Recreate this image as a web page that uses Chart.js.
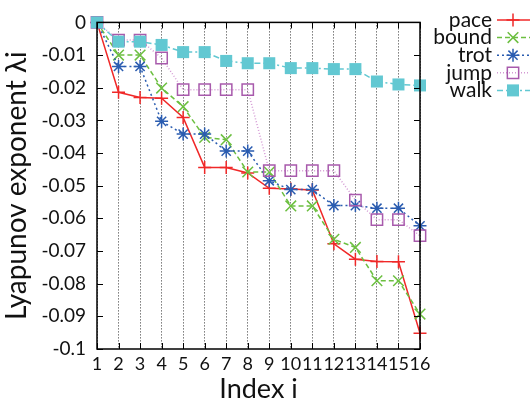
<!DOCTYPE html>
<html>
<head>
<meta charset="utf-8">
<script src="https://cdn.jsdelivr.net/npm/chart.js@4/dist/chart.umd.min.js"></script>
<style>
  html, body { margin: 0; padding: 0; background: #fff; }
  #wrap { width: 530px; height: 406px; }
</style>
</head>
<body>
<div id="wrap"><canvas id="c" width="530" height="406"></canvas></div>
<script>
// Lyapunov spectrum per gait: exponent value for each index i
const indices = [1, 2, 3, 4, 5, 6, 7, 8, 9, 10, 11, 12, 13, 14, 15, 16];
const pace  = [0, -0.0214, -0.0230, -0.0232, -0.0291, -0.0444, -0.0444, -0.0461, -0.0508, -0.0510, -0.0513, -0.0678, -0.0725, -0.0732, -0.0733, -0.0952];
const bound = [0, -0.0100, -0.0100, -0.0201, -0.0258, -0.0352, -0.0359, -0.0458, -0.0458, -0.0562, -0.0562, -0.0664, -0.0689, -0.0791, -0.0791, -0.0893];
const trot  = [0, -0.0135, -0.0135, -0.0303, -0.0342, -0.0342, -0.0394, -0.0394, -0.0485, -0.0512, -0.0512, -0.0561, -0.0561, -0.0569, -0.0569, -0.0623];
const jump  = [0, -0.0054, -0.0054, -0.0109, -0.0206, -0.0206, -0.0206, -0.0206, -0.0454, -0.0454, -0.0454, -0.0454, -0.0544, -0.0604, -0.0604, -0.0653];
const walk  = [0, -0.0059, -0.0059, -0.0069, -0.0091, -0.0091, -0.0118, -0.0125, -0.0125, -0.0140, -0.0140, -0.0143, -0.0143, -0.0181, -0.0190, -0.0193];

const seriesNames = ['pace', 'bound', 'trot', 'jump', 'walk'];
const xTitle = 'Index i';
const yTitle = 'Lyapunov exponent \u03BBi';
const FONT = 'Lato, "Liberation Sans", sans-serif';

function pts(vals) { return vals.map((v, k) => ({ x: indices[k], y: v })); }

const datasets = [
  { label: 'pace',  data: pts(pace),  borderColor: '#f02828', pointBorderColor: '#f02828', backgroundColor: 'transparent',
    borderWidth: 1.5, borderDash: [], pointStyle: 'cross', pointRadius: 6.5, pointBorderWidth: 1.5, order: 5 },
  { label: 'bound', data: pts(bound), borderColor: '#6cbf40', pointBorderColor: '#6cbf40', backgroundColor: 'transparent',
    borderWidth: 1.5, borderDash: [5, 3], pointStyle: 'crossRot', pointRadius: 7.5, pointBorderWidth: 1.5, order: 4 },
  { label: 'trot',  data: pts(trot),  borderColor: '#2a5cb0', pointBorderColor: '#2a5cb0', backgroundColor: 'transparent',
    borderWidth: 1.5, borderDash: [2, 3], pointStyle: 'star', pointRadius: 6.5, pointBorderWidth: 1.5, order: 3 },
  { label: 'jump',  data: pts(jump),  borderColor: '#d49ad4', pointBorderColor: '#a85aac', backgroundColor: 'transparent',
    borderWidth: 1.5, borderDash: [1, 2], pointStyle: 'rect', pointRadius: 8, pointBorderWidth: 1.5, pointBackgroundColor: 'transparent', order: 2 },
  { label: 'walk',  data: pts(walk),  borderColor: '#62c8d2', pointBorderColor: '#62c8d2', backgroundColor: '#62c8d2',
    borderWidth: 1.5, borderDash: [6, 3, 2, 3], pointStyle: 'rect', pointRadius: 8.5, pointBorderWidth: 0, pointBackgroundColor: '#62c8d2', order: 1 }
];

// Frame with inward ticks on all four sides
const framePlugin = {
  id: 'frame',
  afterDatasetsDraw(chart) {
    const { ctx, chartArea: a, scales } = chart;
    ctx.save();
    ctx.strokeStyle = '#000';
    ctx.lineWidth = 1.5;
    ctx.setLineDash([]);
    ctx.strokeRect(a.left, a.top, a.right - a.left, a.bottom - a.top);
    ctx.lineWidth = 1;
    const tl = 6;
    ctx.beginPath();
    scales.x.ticks.forEach(t => {
      const x = Math.round(scales.x.getPixelForValue(t.value)) + 0.5;
      ctx.moveTo(x, a.bottom); ctx.lineTo(x, a.bottom - tl);
      ctx.moveTo(x, a.top); ctx.lineTo(x, a.top + tl);
    });
    scales.y.ticks.forEach(t => {
      const y = Math.round(scales.y.getPixelForValue(t.value)) + 0.5;
      ctx.moveTo(a.left, y); ctx.lineTo(a.left + tl, y);
      ctx.moveTo(a.right, y); ctx.lineTo(a.right - tl, y);
    });
    ctx.stroke();
    ctx.restore();
  }
};

// Key on the right: right-aligned names followed by line sample and marker
const keyPlugin = {
  id: 'key',
  afterDraw(chart) {
    const { ctx } = chart;
    const textRight = 492, lineL = 497, lineR = 532, markX = 513;
    const y0 = 20, step = 17.6;
    ctx.save();
    ctx.font = '21px ' + FONT;
    ctx.textAlign = 'right';
    ctx.textBaseline = 'middle';
    chart.data.datasets.forEach((ds, i) => {
      const y = y0 + i * step;
      ctx.fillStyle = '#111';
      ctx.fillText(ds.label, textRight, y);
      ctx.strokeStyle = ds.borderColor;
      ctx.lineWidth = ds.borderWidth;
      ctx.setLineDash(ds.borderDash);
      ctx.beginPath();
      ctx.moveTo(lineL, y); ctx.lineTo(lineR, y);
      ctx.stroke();
      ctx.setLineDash([]);
      ctx.strokeStyle = ds.pointBorderColor;
      ctx.fillStyle = ds.pointBackgroundColor || 'transparent';
      ctx.lineWidth = ds.pointBorderWidth;
      Chart.helpers.drawPoint(ctx, {
        pointStyle: ds.pointStyle, radius: ds.pointRadius, rotation: 0, borderWidth: ds.pointBorderWidth
      }, markX, y);
    });
    ctx.restore();
  }
};

new Chart(document.getElementById('c'), {
  type: 'line',
  data: { datasets },
  options: {
    responsive: false,
    animation: false,
    events: [],
    layout: { padding: { top: 11, right: 110, left: 0, bottom: 0 } },
    datasets: { line: { clip: false, tension: 0, fill: false } },
    plugins: { legend: { display: false }, tooltip: { enabled: false } },
    scales: {
      x: {
        type: 'linear', min: 1, max: 16,
        afterFit(s) { s.height = 57; },
        ticks: { stepSize: 1, padding: 4, color: '#111', font: { family: FONT, size: 18 }, maxRotation: 0, autoSkip: false },
        grid: { display: true, color: '#333', lineWidth: 1, drawTicks: false, tickBorderDash: [], },
        border: { display: false, dash: [1, 2] },
        title: { display: true, text: xTitle, color: '#111', font: { family: FONT, size: 27 }, padding: { top: 0, bottom: 1 } }
      },
      y: {
        type: 'linear', min: -0.1, max: 0,
        afterFit(s) { s.width = 97; },
        ticks: { stepSize: 0.01, padding: 11, color: '#111', font: { family: FONT, size: 19 },
          callback: v => String(Number(v.toFixed(2))) },
        grid: { display: false, drawTicks: false },
        border: { display: false },
        title: { display: true, text: yTitle, color: '#111', font: { family: FONT, size: 28 }, padding: { top: 0, bottom: 0 } }
      }
    }
  },
  plugins: [framePlugin, keyPlugin]
});
</script>
</body>
</html>
